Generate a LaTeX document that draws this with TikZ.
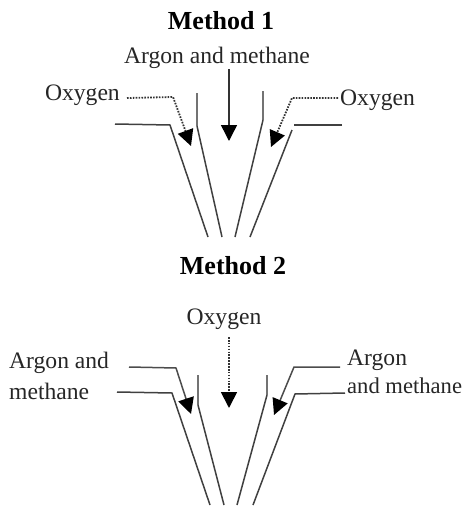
\documentclass[tikz,border=0pt]{standalone}
\usepackage{fontspec}
\setmainfont{Liberation Serif}
\usetikzlibrary{arrows.meta}
\tikzset{
  x=1pt,y=-1pt,
  label text/.style={font=\fontsize{23.6}{28}\selectfont,inner sep=0pt,text=black!85},
  title text/.style={font=\fontsize{26}{30}\selectfont\bfseries,inner sep=0pt,text=black},
  wall/.style={draw=black!75,line width=1.5pt},
  tube/.style={draw=black!55,line width=1.8pt},
  flow/.style={draw=black!80,line width=1.5pt,-{Triangle[length=16pt,width=16pt,color=black]}},
  dotflow/.style={flow,line width=1.8pt,dash pattern=on 1.6pt off 1.3pt,-{Triangle[length=16pt,width=16pt,color=black]}},
}
\begin{document}
\begin{tikzpicture}
\useasboundingbox (0,0) rectangle (464,506);
\node[title text] (t1) at (221,21) {Method 1};
\node[label text] (a1) at (217,58) {Argon and methane};
\node[label text,anchor=east] (ol) at (120,95) {Oxygen};
\node[label text,anchor=west] (or) at (340,100) {Oxygen};
\coordinate (a1s) at (229,69);
\coordinate (a1e) at (229,141);
\draw[flow] (a1s) -- (a1e);
\draw[wall] (115,124) -- (170,125) -- (208,237);
\draw[tube] (197,93) -- (197,126);
\draw[wall] (197,126) -- (222,237);
\draw[tube] (263,91) -- (263,120);
\draw[wall] (263,120) -- (235,237);
\draw[wall] (342,125) -- (294,125);
\draw[wall] (292,130) -- (250,237);
\coordinate (d1) at (127,98);
\coordinate (d2) at (338,98);
\draw[dotflow] (d1) -- (173,97) -- (191,146);
\draw[dotflow] (d2) -- (292,98) -- (271,147);

\node[title text] (t2) at (233,266) {Method 2};
\node[label text] (o2) at (224,319) {Oxygen};
\node[label text,anchor=west] (al) at (9,363) {Argon and};
\node[label text,anchor=west] (ml) at (9,391) {methane};
\node[label text,anchor=west] (ar) at (347,360) {Argon};
\node[label text,anchor=west,font=\fontsize{22.6}{27}\selectfont] (mr) at (347,386) {and methane};
\coordinate (o2s) at (229,337);
\coordinate (o2e) at (229,408);
\draw[dotflow] (o2s) -- (o2e);
\draw[wall] (117,392) -- (172,393) -- (210,505);
\draw[tube] (198,375) -- (198,405);
\draw[wall] (198,405) -- (224,505);
\draw[tube] (267,375) -- (267,395);
\draw[wall] (267,395) -- (237,505);
\draw[wall] (345,393) -- (295,394) -- (253,505);
\draw[flow,draw=black!70] (129,367) -- (176,368) -- (191,414);
\draw[flow,draw=black!70] (340,367) -- (294,367) -- (274,415);
\end{tikzpicture}
\end{document}
